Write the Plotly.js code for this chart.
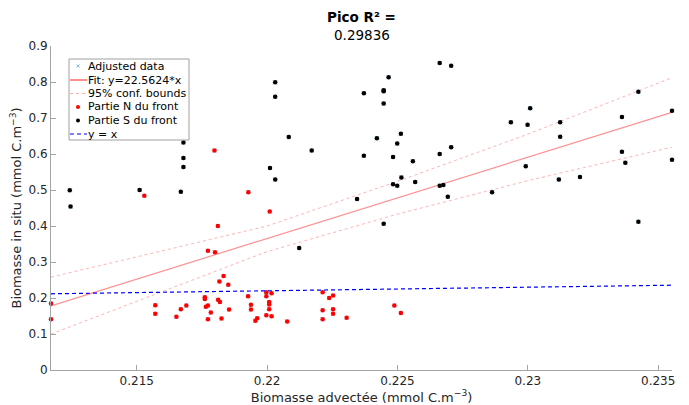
<!DOCTYPE html>
<html>
<head>
<meta charset="utf-8">
<script src="https://cdn.plot.ly/plotly-3.0.1.min.js"></script>
<style>
  html, body { margin: 0; padding: 0; background: #fff; }
  #chart { width: 689px; height: 405px; }
</style>
</head>
<body>
<div id="chart"></div>
<script>
// Northern part of the front (red dots)
const northX = [0.21171, 0.21171, 0.21529, 0.21571, 0.21571, 0.21652, 0.21669, 0.21690,
  0.21761, 0.21761, 0.21765, 0.21773, 0.21773, 0.21773, 0.21784, 0.21798, 0.21800, 0.21811,
  0.21812, 0.21817, 0.21819, 0.21825, 0.21833, 0.21851, 0.21854, 0.21927, 0.21928, 0.21938,
  0.21938, 0.21955, 0.21962, 0.21997, 0.21997, 0.21997, 0.22008, 0.22008, 0.22008, 0.22010,
  0.22017, 0.22017, 0.22077, 0.22213, 0.22213, 0.22213, 0.22238, 0.22253, 0.22253, 0.22253,
  0.22305, 0.22488, 0.22513];
const northY = [0.185, 0.141, 0.484, 0.180, 0.156, 0.148, 0.169, 0.179,
  0.202, 0.197, 0.176, 0.179, 0.141, 0.331, 0.160, 0.610, 0.327, 0.400,
  0.195, 0.246, 0.189, 0.143, 0.261, 0.237, 0.168, 0.205, 0.494, 0.181,
  0.168, 0.137, 0.144, 0.216, 0.205, 0.152, 0.189, 0.182, 0.169, 0.440,
  0.213, 0.149, 0.135, 0.216, 0.166, 0.141, 0.200, 0.207, 0.169, 0.156,
  0.145, 0.179, 0.158];

// Southern part of the front (black dots)
const southX = [0.21243, 0.21246, 0.21511, 0.21669, 0.21679, 0.21679, 0.21679, 0.22011,
  0.22031, 0.22031, 0.22031, 0.22083, 0.22123, 0.22171, 0.22345, 0.22371, 0.22371, 0.22421,
  0.22447, 0.22447, 0.22447, 0.22447, 0.22466, 0.22483, 0.22483, 0.22499, 0.22499, 0.22513,
  0.22515, 0.22559, 0.22568, 0.22662, 0.22662, 0.22662, 0.22676, 0.22693, 0.22706, 0.22706,
  0.22863, 0.22935, 0.22992, 0.22999, 0.23009, 0.23119, 0.23124, 0.23124, 0.23200, 0.23361,
  0.23361, 0.23374, 0.23424, 0.23424, 0.23553, 0.23553];
const southY = [0.499, 0.454, 0.500, 0.495, 0.564, 0.589, 0.632, 0.561,
  0.799, 0.759, 0.529, 0.647, 0.339, 0.610, 0.475, 0.769, 0.595, 0.644,
  0.777, 0.774, 0.740, 0.406, 0.813, 0.592, 0.516, 0.629, 0.512, 0.656,
  0.535, 0.580, 0.522, 0.853, 0.600, 0.512, 0.514, 0.481, 0.845, 0.619,
  0.494, 0.688, 0.566, 0.681, 0.727, 0.529, 0.688, 0.648, 0.536, 0.703,
  0.606, 0.576, 0.773, 0.412, 0.720, 0.584];

// Linear fit and its 95% confidence bounds
const fitSlope = 22.5624;
const fitOffset = -4.5985;
const boundX = [0.21171, 0.215, 0.22, 0.225, 0.23, 0.23553];
const boundUpper = [0.258, 0.314, 0.400, 0.524, 0.655, 0.812];
const boundLower = [0.100, 0.191, 0.329, 0.433, 0.526, 0.619];

const xRange = [0.21171, 0.23553];
const xTicks = [0.215, 0.22, 0.225, 0.23, 0.235];
const yTicks = [0, 0.1, 0.2, 0.3, 0.4, 0.5, 0.6, 0.7, 0.8, 0.9];

const titleLines = ['<b>Pico R² =</b>', '0.29836'];
const legendLabels = ['Adjusted data', 'Fit: y=22.5624*x', '95% conf. bounds',
  'Partie N du front', 'Partie S du front', 'y = x'];

const allX = northX.concat(southX);
const allY = northY.concat(southY);
const fitX = [xRange[0], xRange[1]];
const fitY = fitX.map(v => fitSlope * v + fitOffset);

const font = 'DejaVu Sans, Arial, sans-serif';
const axisGray = '#a3a3a3';
const textGray = '#262626';
const colAdjusted = '#7fbfe0';
const colFit = '#ff9090';
const colBound = '#ffb4b4';
const colN = '#ff0000';
const colS = '#000000';
const colId = '#0000ff';

// plot area in pixels (margins below) -> paper coordinates
const M = { l: 51, r: 17, t: 46, b: 35 };
const W = 689, H = 405;
const PW = W - M.l - M.r, PH = H - M.t - M.b;
const PX = p => (p - M.l) / PW;
const PY = p => (H - M.b - p) / PH;

const traces = [
  { x: allX, y: allY, type: 'scatter', mode: 'markers', name: legendLabels[0],
    marker: { symbol: 'x-thin', size: 4, color: colAdjusted, line: { width: 1, color: colAdjusted } },
    cliponaxis: false },
  { x: fitX, y: fitY, type: 'scatter', mode: 'lines', name: legendLabels[1],
    line: { color: colFit, width: 1.2 } },
  { x: boundX, y: boundUpper, type: 'scatter', mode: 'lines', name: legendLabels[2],
    line: { color: colBound, width: 1, dash: 'dot' } },
  { x: boundX, y: boundLower, type: 'scatter', mode: 'lines', name: legendLabels[2],
    line: { color: colBound, width: 1, dash: 'dot' } },
  { x: northX, y: northY, type: 'scatter', mode: 'markers', name: legendLabels[3],
    marker: { size: 4.5, color: colN }, cliponaxis: false },
  { x: southX, y: southY, type: 'scatter', mode: 'markers', name: legendLabels[4],
    marker: { size: 4.5, color: colS }, cliponaxis: false },
  { x: fitX, y: fitX, type: 'scatter', mode: 'lines', name: legendLabels[5],
    line: { color: colId, width: 1.2, dash: '4px,3px' } }
];

// Compact legend box drawn with shapes and annotations
const legBox = { x0: 69, x1: 189, y0: 59, y1: 140 };
const rowY = [66, 80, 93.5, 107, 120.5, 134];
const keyX0 = 70, keyX1 = 87, keyMid = 78, textX = 87;

const shapes = [
  { type: 'rect', xref: 'paper', yref: 'paper', layer: 'above',
    x0: PX(legBox.x0), x1: PX(legBox.x1), y0: PY(legBox.y1), y1: PY(legBox.y0),
    fillcolor: '#ffffff', line: { color: '#a0a0a0', width: 1 } },
  // adjusted data key: small x
  { type: 'line', xref: 'paper', yref: 'paper', layer: 'above',
    x0: PX(keyMid - 1.5), x1: PX(keyMid + 1.5), y0: PY(rowY[0] - 1.5), y1: PY(rowY[0] + 1.5),
    line: { color: colAdjusted, width: 1 } },
  { type: 'line', xref: 'paper', yref: 'paper', layer: 'above',
    x0: PX(keyMid - 1.5), x1: PX(keyMid + 1.5), y0: PY(rowY[0] + 1.5), y1: PY(rowY[0] - 1.5),
    line: { color: colAdjusted, width: 1 } },
  // fit key
  { type: 'line', xref: 'paper', yref: 'paper', layer: 'above',
    x0: PX(keyX0), x1: PX(keyX1), y0: PY(rowY[1]), y1: PY(rowY[1]),
    line: { color: colFit, width: 2 } },
  // bounds key
  { type: 'line', xref: 'paper', yref: 'paper', layer: 'above',
    x0: PX(keyX0), x1: PX(keyX1), y0: PY(rowY[2]), y1: PY(rowY[2]),
    line: { color: colBound, width: 1, dash: 'dot' } },
  // N / S dots
  { type: 'circle', xref: 'paper', yref: 'paper', layer: 'above',
    x0: PX(keyMid - 2), x1: PX(keyMid + 2), y0: PY(rowY[3] + 2), y1: PY(rowY[3] - 2),
    fillcolor: colN, line: { width: 0 } },
  { type: 'circle', xref: 'paper', yref: 'paper', layer: 'above',
    x0: PX(keyMid - 2), x1: PX(keyMid + 2), y0: PY(rowY[4] + 2), y1: PY(rowY[4] - 2),
    fillcolor: colS, line: { width: 0 } },
  // y = x key
  { type: 'line', xref: 'paper', yref: 'paper', layer: 'above',
    x0: PX(keyX0), x1: PX(keyX1), y0: PY(rowY[5]), y1: PY(rowY[5]),
    line: { color: colId, width: 1.2, dash: '4px,3px' } }
];

const annotations = legendLabels.map((t, i) => ({
  text: t, xref: 'paper', yref: 'paper', x: PX(textX), y: PY(rowY[i]),
  xanchor: 'left', yanchor: 'middle', showarrow: false, borderpad: 0,
  font: { family: font, size: 11, color: '#000000' }
}));

// two-line title centred over the axes
annotations.push(
  { text: titleLines[0], xref: 'paper', yref: 'paper', x: 0.5, y: PY(17),
    xanchor: 'center', yanchor: 'middle', showarrow: false,
    font: { family: font, size: 13.5, color: '#000000' } },
  { text: titleLines[1], xref: 'paper', yref: 'paper', x: 0.5, y: PY(35),
    xanchor: 'center', yanchor: 'middle', showarrow: false,
    font: { family: font, size: 13.5, color: '#000000' } }
);

const layout = {
  width: W, height: H,
  margin: { l: M.l, r: M.r, t: M.t, b: M.b, pad: 0 },
  paper_bgcolor: '#ffffff', plot_bgcolor: '#ffffff',
  font: { family: font, size: 12, color: textGray },
  showlegend: false,
  xaxis: {
    range: xRange, tickvals: xTicks, ticktext: xTicks.map(String),
    showgrid: false, zeroline: false, showline: true, linecolor: axisGray, linewidth: 1,
    ticks: 'inside', ticklen: 5, tickcolor: axisGray, tickwidth: 1,
    tickfont: { family: font, size: 12, color: textGray },
    automargin: false,
    title: { text: 'Biomasse advectée (mmol C.m<sup>−3</sup>)', standoff: 4,
             font: { family: font, size: 13, color: textGray } }
  },
  yaxis: {
    range: [0, 0.9], tickvals: yTicks, ticktext: yTicks.map(String),
    showgrid: false, zeroline: false, showline: true, linecolor: axisGray, linewidth: 1,
    ticks: 'inside', ticklen: 5, tickcolor: axisGray, tickwidth: 1,
    tickfont: { family: font, size: 12, color: textGray },
    automargin: false,
    title: { text: 'Biomasse in situ (mmol C.m<sup>−3</sup>)', standoff: 3,
             font: { family: font, size: 13, color: textGray } }
  },
  shapes: shapes,
  annotations: annotations
};

Plotly.newPlot('chart', traces, layout, { displayModeBar: false, staticPlot: true });
</script>
</body>
</html>
